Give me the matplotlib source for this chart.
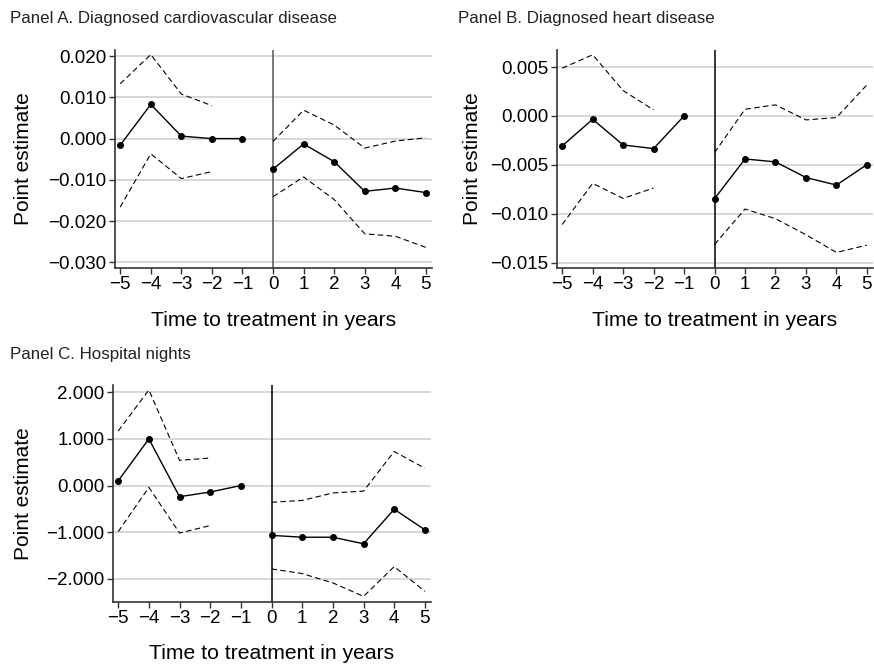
import numpy as np
import matplotlib.pyplot as plt

plt.rcParams['font.family'] = ['Liberation Sans', 'DejaVu Sans']

# event time
years = [-5, -4, -3, -2, -1, 0, 1, 2, 3, 4, 5]
ci_years = [-5, -4, -3, -2, 0, 1, 2, 3, 4, 5]

# Panel A. Diagnosed cardiovascular disease
a_est = [-0.0016, 0.0083, 0.0006, 0.0000, 0.0000, -0.0074, -0.0013, -0.0056, -0.0128, -0.0120, -0.0131]
a_hi = [0.0133, 0.0204, 0.0108, 0.0080, -0.0007, 0.0069, 0.0033, -0.0023, -0.0006, 0.0002]
a_lo = [-0.0166, -0.0037, -0.0097, -0.0080, -0.0141, -0.0093, -0.0148, -0.0231, -0.0237, -0.0264]

# Panel B. Diagnosed heart disease
b_est = [-0.00307, -0.00034, -0.00297, -0.00334, 0.0, -0.00846, -0.00440, -0.00470, -0.00630, -0.00707, -0.00498]
b_hi = [0.00488, 0.00625, 0.00259, 0.00061, -0.00375, 0.00068, 0.00113, -0.00041, -0.00017, 0.00317]
b_lo = [-0.01110, -0.00690, -0.00843, -0.00737, -0.01314, -0.00952, -0.01051, -0.01215, -0.01396, -0.01321]

# Panel C. Hospital nights
c_est = [0.10, 1.00, -0.24, -0.14, 0.0, -1.07, -1.11, -1.11, -1.25, -0.51, -0.95]
c_hi = [1.17, 2.05, 0.54, 0.59, -0.36, -0.32, -0.16, -0.12, 0.73, 0.37]
c_lo = [-0.99, -0.04, -1.02, -0.86, -1.79, -1.89, -2.09, -2.38, -1.74, -2.27]

W, H = 874, 664
fig = plt.figure(figsize=(W / 100, H / 100), dpi=100)


def box(left, top, right, bottom):
    return [left / W, 1 - bottom / H, (right - left) / W, (bottom - top) / H]


def panel(rect, est, hi, lo, yticks, ylim, fmt, vcolor, title, title_xy, ylab_x):
    ax = fig.add_axes(rect)
    ax.axvline(0, color=vcolor, lw=1.1, zorder=2)
    for y in yticks:
        ax.axhline(y, color='#d4d4d4', lw=1.3, zorder=0)
    x = np.array(years)
    e = np.array(est)
    for m in (x < 0, x >= 0):
        ax.plot(x[m], e[m], color='black', lw=1.0, marker='o', ms=4, zorder=4)
    cx = np.array(ci_years)
    for s in (hi, lo):
        s = np.array(s)
        for m in (cx < 0, cx >= 0):
            ax.plot(cx[m], s[m], color='black', lw=0.8, ls=(0, (5, 3)), zorder=3)
    ax.set_xlim(-5.17, 5.2)
    ax.set_ylim(*ylim)
    ax.set_xticks(years)
    ax.set_xticklabels([str(v).replace('-', '\u2212') for v in years])
    ax.set_yticks(yticks)
    ax.set_yticklabels([fmt.format(v).replace('-', '\u2212') for v in yticks])
    ax.tick_params(labelsize=13.5, length=4, width=1, color='#333333', pad=2)
    for side in ('top', 'right'):
        ax.spines[side].set_visible(False)
    for side in ('left', 'bottom'):
        ax.spines[side].set_color('#333333')
        ax.spines[side].set_linewidth(1.2)
    ax.set_xlabel('Time to treatment in years', fontsize=15.2)
    ax.set_ylabel('Point estimate', fontsize=15)
    ax.xaxis.set_label_coords(0.5, -0.195)
    ax.yaxis.set_label_coords(ylab_x, 0.5)
    fig.text(title_xy[0] / W, 1 - title_xy[1] / H, title, fontsize=12.2,
             color='#222222', va='center', ha='left')
    return ax


panel(box(115, 50, 432, 268), a_est, a_hi, a_lo,
      [0.02, 0.01, 0.0, -0.01, -0.02, -0.03], (-0.0314, 0.0215), '{:.3f}', '#555555',
      'Panel A. Diagnosed cardiovascular disease', (10, 18), -0.259)
panel(box(557, 50, 873, 268), b_est, b_hi, b_lo,
      [0.005, 0.0, -0.005, -0.01, -0.015], (-0.01555, 0.00674), '{:.3f}', 'black',
      'Panel B. Diagnosed heart disease', (458, 18), -0.237)
panel(box(113, 385, 431, 602), c_est, c_hi, c_lo,
      [2.0, 1.0, 0.0, -1.0, -2.0], (-2.5, 2.157), '{:.3f}', 'black',
      'Panel C. Hospital nights', (10, 355), -0.25)

fig.savefig('out.png', dpi=100)
